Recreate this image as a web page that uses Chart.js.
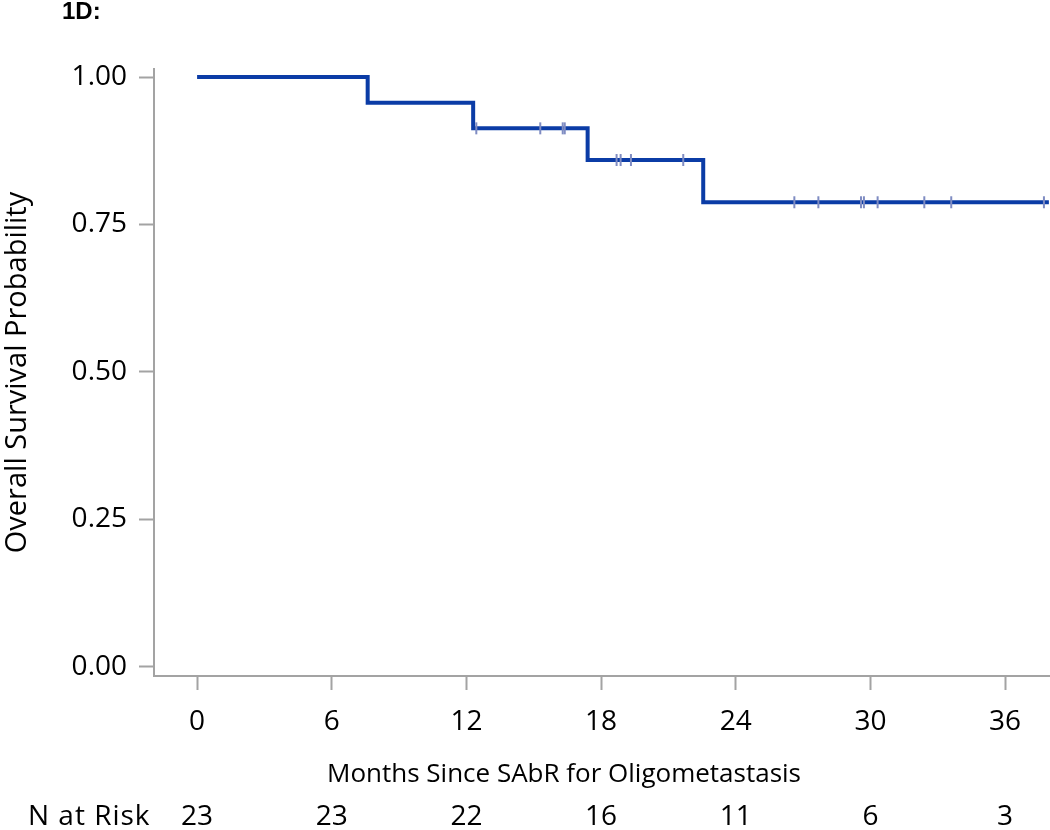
<!DOCTYPE html>
<html>
<head>
<meta charset="utf-8">
<script src="https://cdn.jsdelivr.net/npm/chart.js@4.4.0/dist/chart.umd.min.js"></script>
<style>
html,body{margin:0;padding:0;background:#fff;}
#wrap{width:1050px;height:830px;}
</style>
</head>
<body>
<div id="wrap"><canvas id="c" width="1050" height="830"></canvas></div>
<script>
// ---- data ----
const panelLabel = "1D:";
const yTitle = "Overall Survival Probability";
const xTitle = "Months Since SAbR for Oligometastasis";
const riskLabel = "N at Risk";

const xTicks = [0, 6, 12, 18, 24, 30, 36];
const yTicks = [0, 0.25, 0.5, 0.75, 1.0];

// Kaplan-Meier step curve (time in months, survival probability)
const curveTimes = [0, 7.6, 12.3, 17.4, 22.55, 37.95];
const curveSurv  = [1.0, 0.9565, 0.9130, 0.8593, 0.7877, 0.7877];

// censored observations
const censorTimes = [12.44, 15.29, 16.29, 16.38, 18.69, 18.87, 19.33, 21.66,
                     26.61, 27.68, 29.58, 29.71, 30.32, 32.40, 33.60, 37.73];
const censorSurv  = [0.9130, 0.9130, 0.9130, 0.9130, 0.8593, 0.8593, 0.8593, 0.8593,
                     0.7877, 0.7877, 0.7877, 0.7877, 0.7877, 0.7877, 0.7877, 0.7877];

// number at risk at each x tick
const nAtRisk = [23, 23, 22, 16, 11, 6, 3];

// ---- chart ----
const FONT = "'Open Sans', 'Noto Sans', sans-serif";
const AXIS = '#a3a3a3';

const curveData = curveTimes.map((t, i) => ({x: t, y: curveSurv[i]}));
const censorData = censorTimes.map((t, i) => ({x: t, y: censorSurv[i]}));

const extraText = {
  id: 'extraText',
  afterDraw(chart) {
    const ctx = chart.ctx;
    const xs = chart.scales.x;
    ctx.save();
    ctx.fillStyle = '#000';
    ctx.font = "bold 24px 'Liberation Sans', Arial, sans-serif";
    ctx.textAlign = 'left';
    ctx.textBaseline = 'alphabetic';
    ctx.fillText(panelLabel, 62, 19);

    // x-axis title
    ctx.font = "26px " + FONT;
    ctx.textBaseline = 'middle';
    ctx.textAlign = 'center';
    ctx.fillText(xTitle, 564, 775);

    // number-at-risk row
    ctx.font = "28px " + FONT;
    ctx.textAlign = 'left';
    try { ctx.letterSpacing = '1px'; } catch (e) {}
    ctx.fillText(riskLabel, 28, 817);
    try { ctx.letterSpacing = '0px'; } catch (e) {}
    ctx.textAlign = 'center';
    xTicks.forEach((t, i) => {
      ctx.fillText(String(nAtRisk[i]), xs.getPixelForValue(t), 817);
    });
    ctx.restore();
  }
};

new Chart(document.getElementById('c'), {
  data: {
    datasets: [
      {
        type: 'scatter',
        data: censorData,
        order: 0,
        pointStyle: 'line',
        rotation: 90,
        radius: 6,
        pointRadius: 6,
        borderWidth: 2,
        pointBorderWidth: 2,
        borderColor: '#7f8cc2',
        pointBorderColor: '#7f8cc2',
        backgroundColor: '#7f8cc2',
        showLine: false
      },
      {
        type: 'line',
        data: curveData,
        order: 1,
        stepped: true,
        borderColor: '#0b3ca6',
        borderWidth: 4,
        pointRadius: 0,
        fill: false
      }
    ]
  },
  options: {
    responsive: false,
    animation: false,
    devicePixelRatio: 1,
    layout: {autoPadding: false, padding: {top: 69, right: 0, bottom: 0, left: 0}},
    plugins: {legend: {display: false}, tooltip: {enabled: false}, title: {display: false}},
    scales: {
      x: {
        type: 'linear',
        position: 'bottom',
        min: -1.92,
        max: 38,
        afterFit(s) { s.height = 154; },
        afterBuildTicks(s) { s.ticks = xTicks.map(v => ({value: v})); },
        grid: {drawOnChartArea: false, drawTicks: true, tickLength: 14, tickWidth: 2, tickColor: AXIS, color: AXIS},
        border: {display: true, color: AXIS, width: 2},
        ticks: {color: '#000', padding: 15, maxRotation: 0, autoSkip: false,
                font: {family: FONT, size: 28}, callback: v => String(v)},
        title: {display: false}
      },
      y: {
        type: 'linear',
        position: 'left',
        min: -0.0153,
        max: 1.0136,
        afterFit(s) { s.width = 154; },
        afterBuildTicks(s) { s.ticks = yTicks.map(v => ({value: v})); },
        grid: {drawOnChartArea: false, drawTicks: true, tickLength: 15, tickWidth: 2, tickColor: AXIS, color: AXIS},
        border: {display: true, color: AXIS, width: 2},
        ticks: {color: '#000', padding: 12, autoSkip: false,
                font: {family: FONT, size: 28}, callback: v => Number(v).toFixed(2)},
        title: {display: true, text: yTitle, color: '#000', font: {family: FONT, size: 29},
                padding: {top: 0, bottom: 0}}
      }
    }
  },
  plugins: [extraText]
});
</script>
</body>
</html>
